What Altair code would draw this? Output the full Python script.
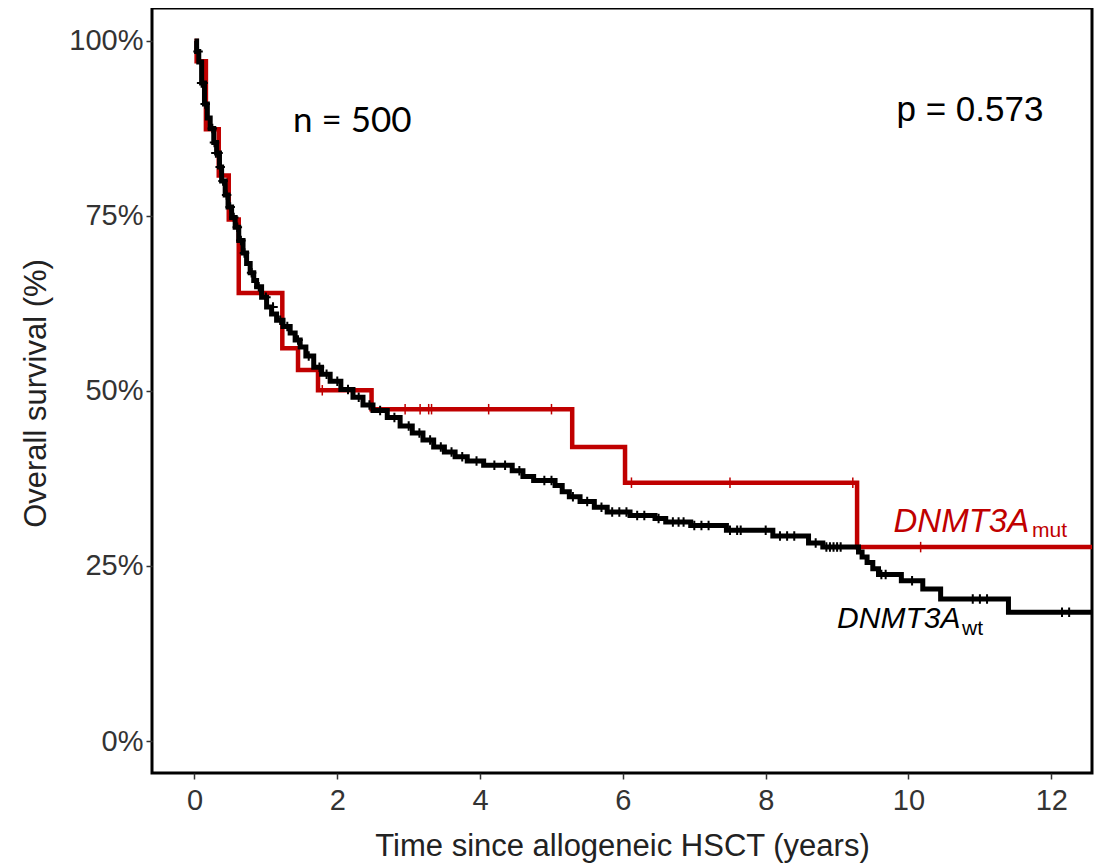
import altair as alt
import pandas as pd

# ---- data ----
wt_time = [0, 0.03, 0.06, 0.10, 0.14, 0.18, 0.22, 0.27, 0.31, 0.35, 0.38, 0.43, 0.47, 0.52,
           0.57, 0.62, 0.68, 0.73, 0.78, 0.83, 0.87, 0.94, 1.01, 1.08, 1.15, 1.24, 1.34,
           1.41, 1.48, 1.56, 1.67, 1.78, 1.90, 2.05, 2.22, 2.36, 2.50, 2.70, 2.88, 3.05,
           3.20, 3.35, 3.50, 3.65, 3.82, 4.05, 4.45, 4.60, 4.75, 5.05, 5.15, 5.25, 5.40,
           5.60, 5.78, 6.10, 6.45, 6.60, 6.95, 7.45, 8.10, 8.60, 8.80, 9.30, 9.35, 9.42,
           9.50, 9.58, 9.90, 10.20, 10.45, 11.40, 12.60]
wt_surv = [100, 98.5, 97, 94, 91, 89, 87.5, 85.5, 84, 82, 80, 78, 76.3, 74.8,
           73.4, 71.5, 69.7, 68.2, 66.9, 65.8, 64.9, 63.4, 62, 61, 60.1, 59.2, 58.3,
           57.3, 56.3, 55, 53.4, 52.4, 51.4, 50.2, 49.1, 48, 47.2, 46.2, 45, 44,
           43, 42, 41.3, 40.6, 40, 39.4, 38.6, 37.8, 37.2, 36.5, 35.6, 34.9, 34.2,
           33.4, 32.7, 32.2, 31.8, 31.3, 30.8, 30.1, 29.3, 28.3, 27.7, 27.0, 26.3, 25.5,
           24.6, 23.8, 22.9, 21.7, 20.3, 18.4, 18.4]

mut_time = [0, 0.03, 0.16, 0.34, 0.48, 0.62, 1.23, 1.45, 1.73, 2.48, 5.29, 6.03, 9.28, 12.60]
mut_surv = [100, 97.1, 87.4, 80.8, 74.5, 64.0, 56.1, 53.0, 50.1, 47.4, 42.0, 36.9, 27.7, 27.7]

wt_cens_time = [0.05, 0.10, 0.12, 0.15, 0.25, 0.28, 0.30, 0.33, 0.36, 0.40, 0.45, 0.50, 0.55,
                0.60, 0.65, 0.70, 0.80, 0.90, 1.00, 1.10, 1.20, 1.30, 1.45, 1.60, 1.75, 1.85,
                2.00, 2.15, 2.30, 2.45, 2.60, 2.80, 3.00, 3.15, 3.30, 3.45, 3.60, 3.75, 3.95,
                4.20, 4.35, 4.55, 4.90, 5.00, 5.30, 5.50, 5.70, 5.85, 5.95, 6.05, 6.20, 6.30,
                6.50, 6.70, 6.78, 6.85, 7.00, 7.10, 7.20, 7.50, 7.60, 7.65, 8.00, 8.20, 8.30,
                8.40, 8.70, 8.85, 8.90, 8.95, 9.00, 9.05, 9.62, 9.68, 10.05, 10.90, 11.00,
                11.10, 12.15, 12.25]
wt_cens_surv = [98.5, 94, 94, 91, 87.5, 85.5, 84, 84, 82, 80, 78, 76.3, 74.8,
                73.4, 71.5, 69.7, 66.9, 64.9, 63.4, 62, 60.1, 59.2, 57.3, 55, 53.4, 52.4,
                51.4, 50.2, 49.1, 48, 47.2, 46.2, 45, 44, 43, 42, 41.3, 40.6, 40,
                39.4, 39.4, 38.6, 37.2, 37.2, 34.9, 34.2, 33.4, 32.7, 32.7, 32.7, 32.2, 32.2,
                31.8, 31.3, 31.3, 31.3, 30.8, 30.8, 30.8, 30.1, 30.1, 30.1, 30.1, 29.3, 29.3,
                29.3, 28.3, 27.7, 27.7, 27.7, 27.7, 27.7, 23.8, 23.8, 22.9, 20.3, 20.3,
                20.3, 18.4, 18.4]

mut_cens_time = [1.79, 2.95, 3.16, 3.28, 3.32, 4.12, 5.00, 6.12, 7.50, 9.22, 10.17]
mut_cens_surv = [50.1, 47.4, 47.4, 47.4, 47.4, 47.4, 47.4, 36.9, 36.9, 36.9, 27.7]

x_ticks = [0, 2, 4, 6, 8, 10, 12]
y_ticks = [0, 25, 50, 75, 100]

RED = "#C00000"
X_DOMAIN = [-0.595, 12.57]
Y_DOMAIN = [-4.57, 104.71]

wt_df = pd.DataFrame({"t": wt_time, "s": wt_surv})
mut_df = pd.DataFrame({"t": mut_time, "s": mut_surv})
wt_c = pd.DataFrame({"t": wt_cens_time, "s": wt_cens_surv})
mut_c = pd.DataFrame({"t": mut_cens_time, "s": mut_cens_surv})

xs = alt.Scale(domain=X_DOMAIN, nice=False, zero=False)
ys = alt.Scale(domain=Y_DOMAIN, nice=False, zero=False)

x_enc = alt.X("t:Q", scale=xs, axis=alt.Axis(
    values=x_ticks, format="d", title="Time since allogeneic HSCT (years)", grid=False,
    domain=False, tickSize=6, tickWidth=1.5, tickColor="#333", labelFontSize=29,
    labelColor="#333", labelFont="Liberation Sans", labelPadding=7,
    titleFont="Liberation Sans", titleFontSize=31, titleFontWeight="normal",
    titleColor="#222", titleY=82, titleBaseline="alphabetic"))
y_enc = alt.Y("s:Q", scale=ys, axis=alt.Axis(
    values=y_ticks, labelExpr="datum.value + '%'", title="Overall survival (%)",
    grid=False, domain=False, tickSize=6, tickWidth=1.5, tickColor="#333",
    labelFontSize=29, labelColor="#333", labelFont="Liberation Sans", labelPadding=3,
    titleFont="Liberation Sans", titleFontSize=31, titleFontWeight="normal",
    titleColor="#222", titleX=-100, titleY=385, titleBaseline="bottom"))

x_plain = alt.X("t:Q", scale=xs)
y_plain = alt.Y("s:Q", scale=ys)

red_line = alt.Chart(mut_df).mark_line(
    interpolate="step-after", color=RED, strokeWidth=4.5, clip=True
).encode(x=x_enc, y=y_enc)

red_cens = alt.Chart(mut_c).mark_point(
    shape="M0,-1V1", size=110, color=RED, strokeWidth=1.5, filled=False, opacity=1
).encode(x=x_plain, y=y_plain)

black_line = alt.Chart(wt_df).mark_line(
    interpolate="step-after", color="black", strokeWidth=5, clip=True
).encode(x=x_plain, y=y_plain)

black_cens = alt.Chart(wt_c).mark_point(
    shape="M-1,0H1M0,-1V1", size=90, color="black", strokeWidth=2, filled=False, opacity=1
).encode(x=x_plain, y=y_plain)

# annotations
ann_n = pd.DataFrame({"t": [1.38], "s": [87.0], "label": ["n = 500"]})
ann_p = pd.DataFrame({"t": [11.89], "s": [88.6], "label": ["p = 0.573"]})
ann_mut = pd.DataFrame({"t": [9.79], "s": [29.9], "label": ["DNMT3A"]})
ann_mut_sub = pd.DataFrame({"t": [11.73], "s": [29.1], "label": ["mut"]})
ann_wt = pd.DataFrame({"t": [9.0], "s": [16.1], "label": ["DNMT3A"]})
ann_wt_sub = pd.DataFrame({"t": [10.75], "s": [15.1], "label": ["wt"]})


def txt(df, **kw):
    return alt.Chart(df).mark_text(baseline="alphabetic", **kw).encode(
        x=x_plain, y=y_plain, text="label:N")


t_n = txt(ann_n, align="left", font="Lato", fontSize=35, color="black")
t_p = txt(ann_p, align="right", font="Liberation Sans", fontSize=35, color="black")
t_mut = txt(ann_mut, align="left", font="Liberation Sans", fontStyle="italic", fontSize=33, color=RED)
t_mut_s = txt(ann_mut_sub, align="left", font="Liberation Sans", fontSize=21, color=RED)
t_wt = txt(ann_wt, align="left", font="Liberation Sans", fontStyle="italic", fontSize=30, color="black")
t_wt_s = txt(ann_wt_sub, align="left", font="Liberation Sans", fontSize=21, color="black")

chart = alt.layer(
    red_line, red_cens, black_line, black_cens, t_n, t_p, t_mut, t_mut_s, t_wt, t_wt_s
).properties(
    width=940, height=765,
    autosize=alt.AutoSizeParams(type="none"),
    padding={"left": 144, "top": 0, "right": 2, "bottom": 90},
).configure(
    background="white"
).configure_view(
    stroke="black", strokeWidth=3
)

chart.save("out.html", embed_options={"renderer": "svg", "actions": False})
